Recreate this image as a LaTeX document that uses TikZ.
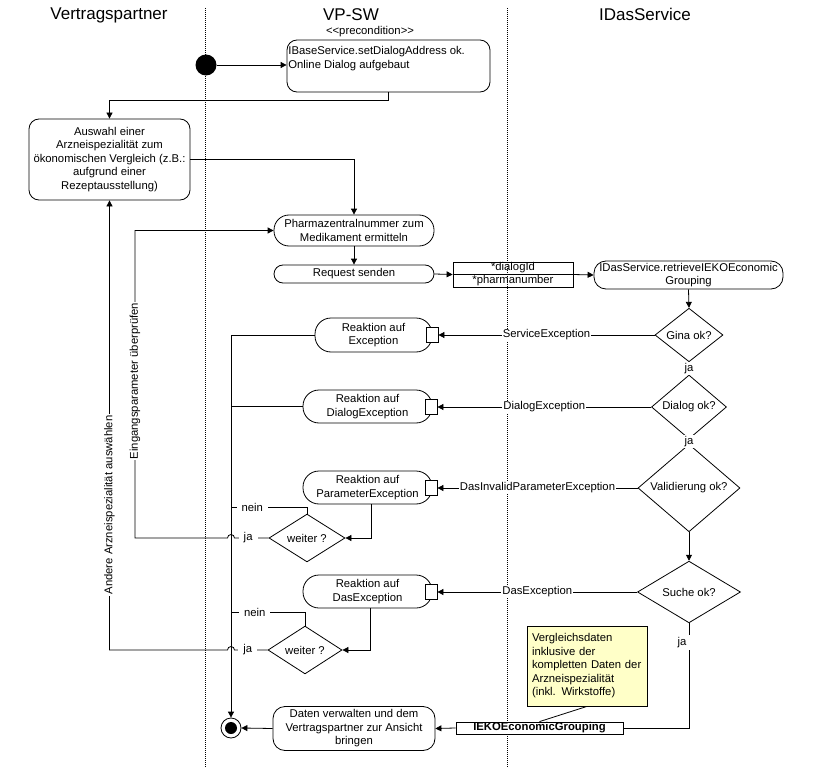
\documentclass[tikz,border=0pt]{standalone}
\usepackage{fontspec}
\setmainfont{Liberation Sans}
\usetikzlibrary{arrows.meta,shapes.geometric,calc}
\definecolor{notey}{RGB}{255,255,200}
\begin{document}
\begin{tikzpicture}[x=1pt,y=-1pt,
  every node/.style={font=\fontsize{11.3}{13.5}\selectfont},
  line width=0.8pt,
  arr/.style={-{Triangle[length=6pt,width=6pt]}},
  act/.style={draw, rectangle, inner sep=0pt, align=center},
  dec/.style={draw, diamond, inner sep=0pt, align=center},
  pin/.style={draw, fill=white, rectangle, minimum width=12pt, minimum height=15pt, inner sep=0pt},
  lbl/.style={fill=white, inner sep=1pt},
  lblg/.style={fill=white, inner xsep=5pt, inner ysep=1pt},
  lane/.style={font=\fontsize{17}{20}\selectfont}]
\useasboundingbox (0,0) rectangle (815,768);

% lanes
\node[lane] (t1) at (109,15) {Vertragspartner};
\node[lane] (t2) at (351,15) {VP-SW};
\node[lane] (t3) at (645,14) {IDasService};
\draw[dash pattern=on 1pt off 1pt, line width=0.7pt] (205,8) -- (205,768);
\draw[dash pattern=on 1pt off 1pt, line width=0.7pt] (507,8) -- (507,768);

% nodes
\node[circle, fill=black, minimum size=21pt, inner sep=0pt] (start) at (206,65) {};
\node[act, rounded corners=10pt, minimum width=203pt, minimum height=52pt] (prec) at (388.5,66) {};
\node[anchor=north west, inner sep=0pt, align=left] (prectxt) at (288,46) {IBaseService.setDialogAddress ok.\\Online Dialog aufgebaut};
\node (precl) at (370,32) {<\kern0pt<precondition>\kern0pt>};

\node[act, rounded corners=10pt, minimum width=161pt, minimum height=81pt] (ausw) at (109.5,159.5) {Auswahl einer\\Arzneispezialität zum\\ökonomischen Vergleich (z.B.:\\aufgrund einer\\Rezeptausstellung)};
\node[act, rounded corners=15pt, minimum width=160pt, minimum height=31pt] (pharma) at (354,230.5) {Pharmazentralnummer zum\\Medikament ermitteln};
\node[act, rounded corners=9pt, minimum width=160pt, minimum height=18pt] (req) at (354,274) {Request senden};
\node[draw, minimum width=120pt, minimum height=25pt, inner sep=0pt, align=center, font=\fontsize{11.3}{13}\selectfont] (data) at (513,274.5) {*dialogId\\*pharmanumber};
\node[act, rounded corners=12pt, minimum width=189pt, minimum height=28pt] (ids) at (688.5,275) {IDasService.retrieveIEKOEconomic\\Grouping};

\node[dec, minimum width=68pt, minimum height=42pt] (gina) at (689,335) {Gina ok?};
\node[dec, minimum width=75pt, minimum height=42pt] (dlg) at (689,407) {Dialog ok?};
\node[dec, minimum width=102pt, minimum height=56pt] (val) at (689,488) {Validierung ok?};
\node[dec, minimum width=103pt, minimum height=55pt] (such) at (689,592) {Suche ok?};

\node[act, rounded corners=16pt, minimum width=117pt, minimum height=34pt] (rexc) at (373.5,335) {Reaktion auf\\Exception};
\node[pin] (p1) at (432,335) {};
\node[act, rounded corners=16pt, minimum width=129pt, minimum height=33pt] (rdia) at (367.5,406.5) {Reaktion auf\\DialogException};
\node[pin] (p2) at (431,407) {};
\node[act, rounded corners=16pt, minimum width=129pt, minimum height=33pt] (rpar) at (367.5,487.5) {Reaktion auf\\ParameterException};
\node[pin] (p3) at (431,488) {};
\node[act, rounded corners=16pt, minimum width=129pt, minimum height=33pt] (rdas) at (367.5,591.5) {Reaktion auf\\DasException};
\node[pin] (p4) at (431,592) {};

\node[dec, minimum width=76pt, minimum height=43pt] (w1) at (307,538) {weiter ?};
\node[dec, minimum width=74pt, minimum height=44pt] (w2) at (305,650) {weiter ?};

\node[act, rounded corners=12pt, minimum width=162pt, minimum height=44pt] (daten) at (354,728.5) {Daten verwalten und dem\\Vertragspartner zur Ansicht\\bringen};
\node[circle, draw, minimum size=20pt, inner sep=0pt] (end) at (231,728) {};
\fill (end.center) circle[radius=6pt];

\node[draw, fill=notey, text width=110pt, inner sep=5pt, align=left, minimum height=80pt] (note) at (587,666) {Vergleichsdaten\\inklusive der\\kompletten Daten der\\Arzneispezialität\\(inkl. Wirkstoffe)};
\node[draw, fill=white, minimum width=167pt, minimum height=12pt, inner sep=0pt, font=\fontsize{11.3}{13.5}\selectfont\bfseries] (ieko) at (539.5,728) {IEKOEconomicGrouping};

\coordinate (c1) at (135,538);
\coordinate (c2) at (109.5,650);

% connectors
\draw[arr] (start.east) -- (start.east -| prec.west);
\draw[arr] (prec.south) -- ++(0,8) -| (ausw.north);
\draw[arr] (ausw.east) -| (pharma.north);
\draw[arr] (pharma.south) -- (req.north);
\draw[arr] (req.east) -- (data.west);
\draw (data.west) -- (data.east);
\draw[arr] (data.east) -- (ids.west);
\draw[arr] (ids.south) -- (gina.north);
\draw[arr] (gina.south) -- node[lbl]{ja} (dlg.north);
\draw[arr] (dlg.south) -- node[lbl]{ja} (val.north);
\draw[arr] (val.south) -- (such.north);
\draw (such.south) -- node[fill=white, inner xsep=4pt, inner ysep=2pt, pos=0.185, xshift=-7pt]{ja} (such.south |- ieko.east) -- (ieko.east);
\draw[arr] (ieko.west) -- (daten.east);
\draw (note.south) -- (ieko.north);
\draw[arr] (daten.west) -- (end.east);

\draw[arr] (gina.west) -- node[lbl]{ServiceException} (p1.east);
\draw[arr] (dlg.west) -- node[lbl]{DialogException} (p2.east);
\draw[arr] (val.west) -- node[lbl]{DasInvalidParameterException} (p3.east);
\draw[arr] (such.west) -- node[lbl]{DasException} (p4.east);

\draw[arr] (rexc.west) -| (end.north);
\draw (rdia.west) -- (rdia.west -| end.north);
\draw[arr] ($(rpar.south)+(3.5,0)$) |- (w1.east);
\draw[arr] ($(rdas.south)+(2.5,0)$) |- (w2.east);

\draw (w1.north) -- ++(0,-6) coordinate (n1) -- node[lblg,pos=0.72]{nein} (n1 -| end.north);
\draw (w2.north) -- ++(0,-13) coordinate (n2) -- node[lblg,pos=0.68]{nein} (n2 -| end.north);

\draw[arr] (w1.west) -- node[lblg,pos=0.6]{ja} ($(w1.west -| end.north)+(3.5,0)$) arc[start angle=0,end angle=180,radius=3.5pt] -- (c1) |- (pharma.west);
\node[lbl, rotate=90] (lab1) at (135,381) {Eingangsparameter überprüfen};

\draw[arr] (w2.west) -- node[lblg,pos=0.6]{ja} ($(w2.west -| end.north)+(3.5,0)$) arc[start angle=0,end angle=180,radius=3.5pt] -- (c2) -- (ausw.south);
\node[lbl, rotate=90] (lab2) at (109.5,505) {Andere Arzneispezialität auswählen};
\end{tikzpicture}
\end{document}
